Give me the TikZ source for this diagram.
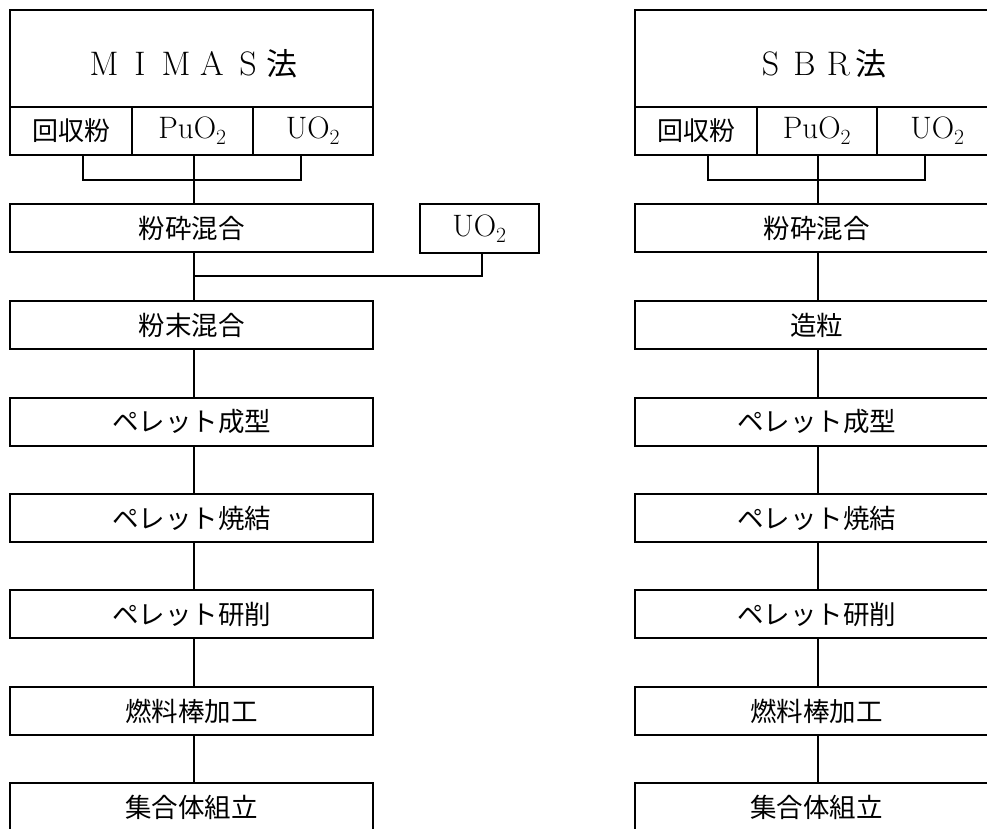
\documentclass[tikz,border=0pt]{standalone}
\usepackage{fontspec}
\newfontfamily\jp{Noto Sans CJK JP}
\newcommand{\fwc}[1]{\makebox[36pt]{#1}}
\begin{document}
\begin{tikzpicture}[x=1pt,y=-1pt,
  frame/.style={draw, line width=1.5pt, inner sep=0pt, outer sep=0pt},
  stepbox/.style={frame, minimum width=363pt, minimum height=48pt, font=\jp\fontsize{26.5}{26.5}\selectfont},
  titlearea/.style={frame, minimum width=363pt, minimum height=97pt},
  cell/.style={frame, minimum height=48pt},
  cjkcell/.style={cell, font=\jp\fontsize{26}{26}\selectfont},
  latcell/.style={cell, font=\fontsize{31}{31}\selectfont},
  conn/.style={line width=1.3pt}]
\useasboundingbox (0,0) rectangle (987,829);
\clip (0,0) rectangle (987,829);

% ---------------- Left: MIMAS ----------------
\node[titlearea, anchor=north west] (Lt) at (10,10) {};
\node at (191.5,64) {\fontsize{34}{34}\selectfont\fwc{M}\fwc{I}\fwc{M}\fwc{A}\fwc{S}{\jp\fontsize{31}{31}\selectfont 法}};
\node[cjkcell, anchor=north west, minimum width=122pt] (La) at (10,107) {回収粉};
\node[latcell, anchor=north west, minimum width=121pt] (Lb) at (132,107) {PuO\textsubscript{2}};
\node[latcell, anchor=north west, minimum width=120pt] (Lc) at (253,107) {UO\textsubscript{2}};
\coordinate (Lj) at (194,180);

\node[stepbox] (L1) at (191.5,228) {粉砕混合};
\node[latcell, minimum width=119pt, minimum height=49pt] (Lu) at (479.5,228.5) {UO\textsubscript{2}};
\coordinate (Lk) at (194,276);
\node[stepbox] (L2) at (191.5,325) {粉末混合};
\node[stepbox] (L3) at (191.5,422) {ペレット成型};
\node[stepbox] (L4) at (191.5,518) {ペレット焼結};
\node[stepbox] (L5) at (191.5,614) {ペレット研削};
\node[stepbox] (L6) at (191.5,711) {燃料棒加工};
\node[stepbox] (L7) at (191.5,807) {集合体組立};

\draw[conn] ([xshift=12pt]La.south) |- (Lj) -| ([xshift=-12pt]Lc.south);
\draw[conn] (Lb.south -| Lj) -- (Lj) -- (L1.north -| Lj);
\draw[conn] (L1.south -| Lj) -- (L2.north -| Lj);
\draw[conn] ([xshift=2.5pt]Lu.south) |- (Lk);
\draw[conn] (L2.south -| Lj) -- (L3.north -| Lj);
\draw[conn] (L3.south -| Lj) -- (L4.north -| Lj);
\draw[conn] (L4.south -| Lj) -- (L5.north -| Lj);
\draw[conn] (L5.south -| Lj) -- (L6.north -| Lj);
\draw[conn] (L6.south -| Lj) -- (L7.north -| Lj);

% ---------------- Right: SBR ----------------
\node[titlearea, anchor=north west] (Rt) at (635,10) {};
\node at (820,64) {\fontsize{34}{34}\selectfont\makebox[34pt]{S}\makebox[34pt]{B}\makebox[34pt]{R}{\jp\fontsize{31}{31}\selectfont 法}};
\node[cjkcell, anchor=north west, minimum width=122pt] (Ra) at (635,107) {回収粉};
\node[latcell, anchor=north west, minimum width=120pt] (Rb) at (757,107) {PuO\textsubscript{2}};
\node[latcell, anchor=north west, minimum width=121pt] (Rc) at (877,107) {UO\textsubscript{2}};
\coordinate (Rj) at (818,180);

\node[stepbox] (R1) at (816.5,228) {粉砕混合};
\node[stepbox] (R2) at (816.5,325) {造粒};
\node[stepbox] (R3) at (816.5,422) {ペレット成型};
\node[stepbox] (R4) at (816.5,518) {ペレット焼結};
\node[stepbox] (R5) at (816.5,614) {ペレット研削};
\node[stepbox] (R6) at (816.5,711) {燃料棒加工};
\node[stepbox] (R7) at (816.5,807) {集合体組立};

\draw[conn] ([xshift=12pt]Ra.south) |- (Rj) -| ([xshift=-12.5pt]Rc.south);
\draw[conn] (Rb.south -| Rj) -- (Rj) -- (R1.north -| Rj);
\draw[conn] (R1.south -| Rj) -- (R2.north -| Rj);
\draw[conn] (R2.south -| Rj) -- (R3.north -| Rj);
\draw[conn] (R3.south -| Rj) -- (R4.north -| Rj);
\draw[conn] (R4.south -| Rj) -- (R5.north -| Rj);
\draw[conn] (R5.south -| Rj) -- (R6.north -| Rj);
\draw[conn] (R6.south -| Rj) -- (R7.north -| Rj);
\end{tikzpicture}
\end{document}
